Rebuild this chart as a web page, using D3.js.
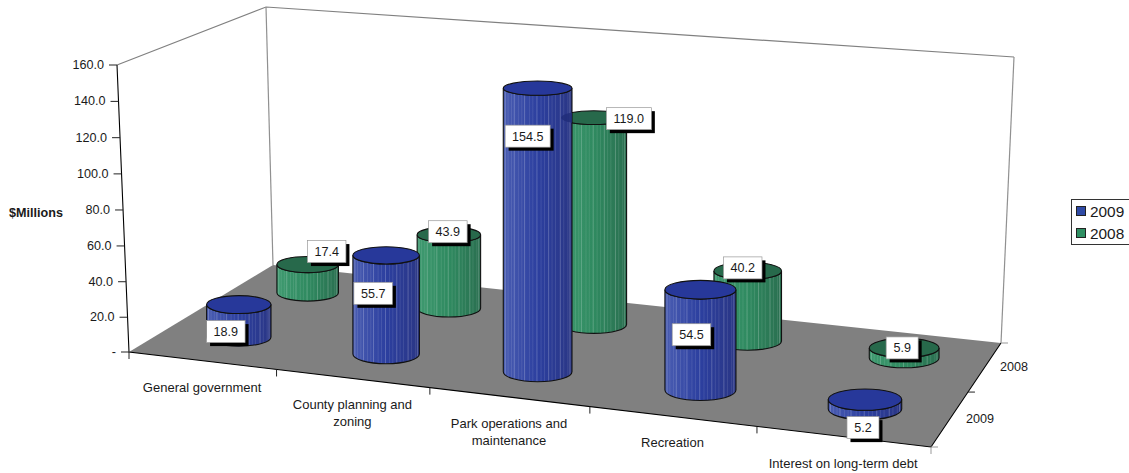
<!DOCTYPE html>
<html><head><meta charset="utf-8">
<script src="https://cdn.jsdelivr.net/npm/d3@7/dist/d3.min.js"></script>
<style>html,body{margin:0;background:#fff;overflow:hidden}text{font-family:"Liberation Sans",Arial,sans-serif;fill:#1a1a1a}</style>
</head><body><svg id="c" width="1129" height="473"></svg>
<script>
const categories=[["General government"],["County planning and","zoning"],["Park operations and","maintenance"],["Recreation"],["Interest on long-term debt"]];
const seriesNames=["2009","2008"];
const values2009=[18.9,55.7,154.5,54.5,5.2];
const values2008=[17.4,43.9,119.0,40.2,5.9];
const yTicks=[0,20,40,60,80,100,120,140,160];
const labelNudge2009=[[-13,27],[-13,38],[-10,48],[-9,45],[-2,28]];
const labelNudge2008=[[19,-13],[-1,-3],[35,1],[-5,-3],[-2,0]];
const stripeOffsets=[.03,.07,.12,.16,.22,.27,.31,.38,.43,.49,.55,.6,.66,.71,.76,.83,.88,.94,.97];

function quad(p){ // unit square -> quad: p = [(0,0),(1,0),(1,1),(0,1)]
  const [[x0,y0],[x1,y1],[x2,y2],[x3,y3]]=p;
  const dx1=x1-x2,dx2=x3-x2,sx=x0-x1+x2-x3,dy1=y1-y2,dy2=y3-y2,sy=y0-y1+y2-y3;
  const det=dx1*dy2-dx2*dy1,g=(sx*dy2-dx2*sy)/det,h=(dx1*sy-sx*dy1)/det;
  const a=x1-x0+g*x1,b=x3-x0+h*x3,d=y1-y0+g*y1,e=y3-y0+h*y3;
  return (u,v)=>{const w=g*u+h*v+1;return [(a*u+b*v+x0)/w,(d*u+e*v+y0)/w];};
}
const floorQ=quad([[129,352],[931,447],[1001,343],[273,265]]);
const topQ=quad([[117,65],[953,132],[1014,57],[266,7]]);
const yScale=d3.scalePow().exponent(1.015).domain([0,160]).range([0,1]);
const xScale=d3.scaleBand().domain(d3.range(5)).range([0,1]);
const zScale=d3.scaleBand().domain(seriesNames).range([0,1]);
const axisWarp=u=>u-.005*Math.sin(Math.PI*u); // front edge spacing is a little tighter on its left half
function P(u,v,val){const a=floorQ(u,v),b=topQ(u,v),t=yScale(val);return [a[0]+(b[0]-a[0])*t,a[1]+(b[1]-a[1])*t];}
const line=d3.line();
const svg=d3.select("#c"),defs=svg.append("defs");
const pal={ "2009":{top:"#27389a",l:"#4a5db2",m:"#2c3f9f",r:"#2a3685",sw:"#2f4aa5"},
            "2008":{top:"#27694b",l:"#3f9a70",m:"#2f8a60",r:"#2a6f50",sw:"#2f8f63"}};
seriesNames.forEach(s=>{const g=defs.append("linearGradient").attr("id","g"+s);
  [[0,pal[s].l],[.5,pal[s].m],[1,pal[s].r]].forEach(([o,c])=>g.append("stop").attr("offset",o).attr("stop-color",c));});

// walls & floor
svg.append("path").attr("d",line([P(0,0,160),P(0,1,160),P(1,1,160)])).attr("fill","none").attr("stroke","#808080").attr("stroke-width",1.2);
svg.append("path").attr("d",line([P(0,1,0),P(0,1,160)])).attr("fill","none").attr("stroke","#909090").attr("stroke-width",1.2);
svg.append("path").attr("d",line([P(1,1,0),P(1,1,160)])).attr("fill","none").attr("stroke","#909090").attr("stroke-width",1.2);
svg.append("path").attr("d",line([P(0,0,0),P(1,0,0),P(1,1,0),P(0,1,0)])+"Z").attr("fill","#808080");
svg.append("path").attr("d",line([P(0,0,160),P(0,0,0),P(1,0,0),P(1,1,0)])).attr("fill","none").attr("stroke","#000").attr("stroke-width",1.1);

// value axis
yTicks.forEach(t=>{const p=P(0,0,t);
  svg.append("line").attr("x1",p[0]-8).attr("x2",p[0]).attr("y1",p[1]).attr("y2",p[1]).attr("stroke","#222");
  svg.append("text").attr("x",p[0]-13).attr("y",p[1]+4).attr("text-anchor","end").attr("font-size",12.6).text(t===0?"-":d3.format(".1f")(t));});
svg.append("text").attr("x",9).attr("y",217).attr("font-size",12.6).attr("font-weight","bold").text("$Millions");

// category axis
d3.range(6).forEach(i=>{const p=P(axisWarp(i/5),0,0);
  svg.append("line").attr("x1",p[0]).attr("x2",p[0]).attr("y1",p[1]).attr("y2",p[1]+7).attr("stroke",i==5?"#999":"#222");});
categories.forEach((c,i)=>{const p=P(axisWarp(xScale(i)+xScale.bandwidth()/2),0,0);
  c.forEach((t,j)=>svg.append("text").attr("x",p[0]).attr("y",p[1]+31+j*17).attr("text-anchor","middle").attr("font-size",13).text(t));});
// depth axis
[0,.5,1].forEach((v,i)=>{const p=P(1,v,0);
  svg.append("line").attr("x1",p[0]).attr("x2",p[0]+7).attr("y1",p[1]).attr("y2",p[1]).attr("stroke",i==1?"#222":"#999");});
seriesNames.forEach(s=>{const p=P(1,zScale(s)+zScale.bandwidth()/2,0);
  svg.append("text").attr("x",p[0]+16+(s=="2008"?-1:0)).attr("y",p[1]+4).attr("font-size",12.6).text(s);});

// cylinders stand upright: one x for base and cap
function geom(i,s,val){
  const u=xScale(i)+xScale.bandwidth()/2, v=zScale(s)+zScale.bandwidth()/2;
  const du=xScale.bandwidth()*.22, dv=zScale.bandwidth()*.2;
  const cx=(P(u,v,0)[0]+P(u,v,val)[0])/2-1;
  const mk=h=>{const c=P(u,v,h),a=P(u-du,v,h),b=P(u+du,v,h),f=P(u,v-dv,h),k=P(u,v+dv,h);
    return {c:[cx,c[1]],rx:Math.abs(b[0]-a[0])/2,ry:Math.abs(f[1]-k[1])/2};};
  const base=mk(0),top=mk(val);
  top.rx=base.rx;
  return {b:base,t:top};
}
let uid=0;
function cyl(i,s,val){
  const {b,t}=geom(i,s,val),c=pal[s];
  const lx=t.c[0]-t.rx,rx=t.c[0]+t.rx;
  const body=`M${lx},${t.c[1]}L${lx},${b.c[1]}A${b.rx},${b.ry} 0 0 0 ${rx},${b.c[1]}L${rx},${t.c[1]}A${t.rx},${t.ry} 0 0 1 ${lx},${t.c[1]}Z`;
  const id="cb"+(uid++);
  defs.append("clipPath").attr("id",id).append("path").attr("d",body);
  svg.append("path").attr("d",body).attr("fill",`url(#g${s})`);
  const g=svg.append("g").attr("clip-path",`url(#${id})`);
  stripeOffsets.forEach((o,k)=>g.append("line").attr("x1",lx+o*2*t.rx).attr("x2",lx+o*2*t.rx).attr("y1",t.c[1]-20).attr("y2",b.c[1]+b.ry+5)
    .attr("stroke","#fff").attr("stroke-opacity",k%3==0?.22:.1).attr("stroke-width",1));
  svg.append("path").attr("d",body).attr("fill","none").attr("stroke","#111").attr("stroke-width",1.1);
  svg.append("ellipse").attr("cx",t.c[0]).attr("cy",t.c[1]).attr("rx",t.rx).attr("ry",t.ry).attr("fill",c.top).attr("stroke","#111").attr("stroke-width",1.1);
  return {id,t};
}
const greens=values2008.map((v,i)=>cyl(i,"2008",v));
const blues=values2009.map((v,i)=>cyl(i,"2009",v));
// the back cylinder's cap shows through the tallest front cylinder
const gp=greens[2].t;
svg.append("g").attr("clip-path",`url(#${blues[2].id})`).append("ellipse").attr("cx",gp.c[0]).attr("cy",gp.c[1]).attr("rx",gp.rx).attr("ry",gp.ry)
  .attr("fill","#1f2c78").attr("fill-opacity",.8);

function label(val,i,s,n){
  const {t}=geom(i,s,val),x=t.c[0]+n[0],y=t.c[1]+n[1];
  const txt=d3.format(".1f")(val),w=txt.length*6.5+12.5,h=22;
  svg.append("rect").attr("x",x-w/2+3.5).attr("y",y-h/2+3.5).attr("width",w).attr("height",h).attr("fill","#000");
  svg.append("rect").attr("x",x-w/2).attr("y",y-h/2).attr("width",w).attr("height",h).attr("fill","#fff").attr("stroke","#999").attr("stroke-width",.7);
  svg.append("text").attr("x",x).attr("y",y+4.5).attr("text-anchor","middle").attr("font-size",12.6).text(txt);
}
values2008.forEach((v,i)=>label(v,i,"2008",labelNudge2008[i]));
values2009.forEach((v,i)=>label(v,i,"2009",labelNudge2009[i]));

// legend
const lg=svg.append("g");
lg.append("rect").attr("x",1071.5).attr("y",199.5).attr("width",70).attr("height",45).attr("fill","#fff").attr("stroke","#333");
seriesNames.forEach((s,i)=>{
  lg.append("rect").attr("x",1076.5).attr("y",206.5+i*22).attr("width",9).attr("height",9).attr("fill",pal[s].sw).attr("stroke","#222");
  lg.append("text").attr("x",1090).attr("y",216.5+i*22).attr("font-size",15.4).text(s);});
</script></body></html>
